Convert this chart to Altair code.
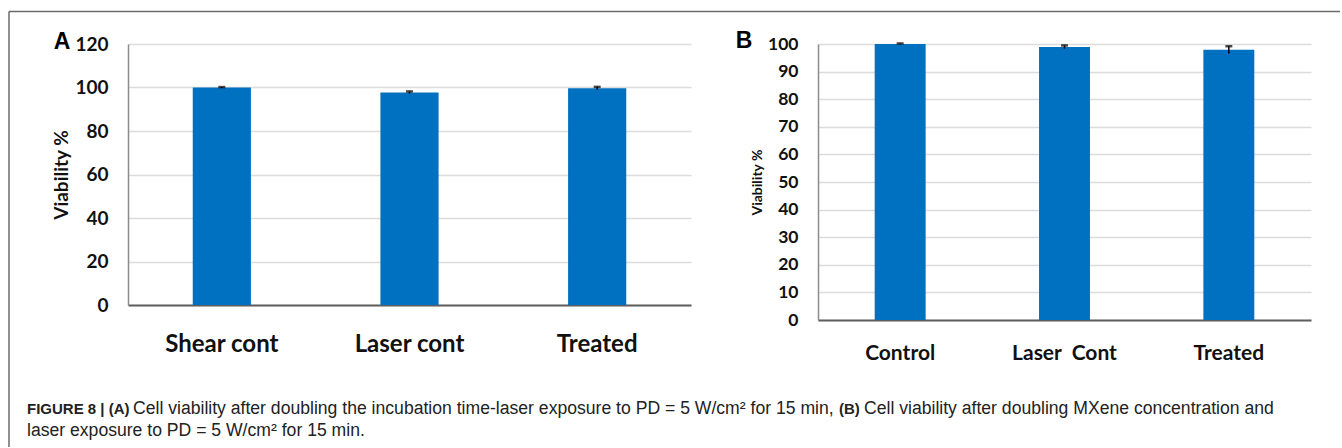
import altair as alt
import pandas as pd

# ---------------- data ----------------
cats_a = ["Shear cont", "Laser cont", "Treated"]
vals_a = [100.0, 97.7, 99.7]
errs_a = [0.2, 0.5, 0.6]
ticks_a = [0, 20, 40, 60, 80, 100, 120]

cats_b = ["Control", "Laser\u00a0 Cont", "Treated"]
vals_b = [100.0, 98.9, 97.9]
errs_b = [0.2, 0.6, 1.3]
ticks_b = [0, 10, 20, 30, 40, 50, 60, 70, 80, 90, 100]

panel_letters = ["A", "B"]
y_title = "Viability %"
cap1_bold = ["FIGURE 8 | (A)", "(B)"]
cap1_text = [
    "Cell viability after doubling the incubation time-laser exposure to PD = 5 W/cm\u00b2 for 15 min,",
    "Cell viability after doubling MXene concentration and",
]
cap2_text = ["laser exposure to PD = 5 W/cm\u00b2 for 15 min."]

BLUE = "#0070c0"
TXT = "#111111"
LFONT = "Lato"
CFONT = "Liberation Sans"

# panel A plot origin is at absolute (128, 43)
OX, OY = 128, 43


def one(t):
    return pd.DataFrame({"t": [t]})


def panel(cats, vals, errs, ticks, ymax, w, h, xfs, yfs, tfs, title_x, xpad, letter, lx, ly):
    df = pd.DataFrame({
        "cat": cats,
        "v": vals,
        "lo": [v - e for v, e in zip(vals, errs)],
        "hi": [v + e for v, e in zip(vals, errs)],
    })
    xs = alt.Scale(paddingInner=0.69, paddingOuter=0.345)
    ys = alt.Scale(domain=[0, ymax], nice=False)
    xa = alt.Axis(
        title=None, labelAngle=0, ticks=False, tickSize=0,
        domainColor="#5e5e5e", domainWidth=2,
        labelFont=LFONT, labelFontWeight="bold", labelFontSize=xfs,
        labelColor=TXT, labelPadding=xpad, labelBaseline="alphabetic",
        grid=False)
    ya = alt.Axis(
        values=ticks, labelOverlap=False,
        title=y_title, titleFont=LFONT, titleFontSize=tfs,
        titleFontWeight="bold", titleColor=TXT, titleX=title_x, titleY=h / 2,
        titleAngle=270, titleAlign="center", titleBaseline="middle",
        labelFont=LFONT, labelFontWeight="bold", labelFontSize=yfs,
        labelColor=TXT, labelPadding=20, ticks=False, tickSize=0,
        domainColor="#8c8c8c", domainWidth=1.5,
        gridColor="#dcdcdc", gridWidth=1.5)
    x = alt.X("cat:N", sort=cats, scale=xs, axis=xa)
    bars = alt.Chart(df).mark_bar(color=BLUE).encode(
        x=x, y=alt.Y("v:Q", scale=ys, axis=ya))
    rule = alt.Chart(df).mark_rule(color="black", strokeWidth=1.5).encode(
        x=x, y=alt.Y("lo:Q", scale=ys, axis=ya), y2="hi:Q")
    cap = alt.Chart(df).mark_tick(color="black", thickness=2.5, size=7).encode(
        x=x, y=alt.Y("hi:Q", scale=ys, axis=ya))
    let = alt.Chart(one(letter)).mark_text(
        font=CFONT, fontWeight="bold", fontSize=23, align="center",
        baseline="alphabetic", color="black").encode(
        text="t:N", x=alt.value(lx), y=alt.value(ly))
    return [bars, rule, cap, let], w, h


layers_a, wa, ha = panel(cats_a, vals_a, errs_a, ticks_a, 120, 563, 261,
                         24, 19, 19, -67, 46, panel_letters[0], 62 - OX, 48 - OY)
layers_b, wb, hb = panel(cats_b, vals_b, errs_b, ticks_b, 100, 493, 276,
                         21, 17.5, 14, -61, 39, panel_letters[1], 744 - 818, 47 - OY)

# outer figure frame (top and left edges)
frame_top = alt.Chart(one("frame")).mark_rule(color="#6b6b6b", strokeWidth=1.5).encode(
    x=alt.value(9 - OX), x2=alt.value(1340 - OX), y=alt.value(10.5 - OY))
frame_left = alt.Chart(one("frame")).mark_rule(color="#6b6b6b", strokeWidth=1.5).encode(
    x=alt.value(9 - OX), y=alt.value(10.5 - OY), y2=alt.value(446 - OY))


def cap_text(t, x, y, bold):
    return alt.Chart(one(t)).mark_text(
        font=CFONT, fontWeight="bold" if bold else "normal",
        fontSize=15 if bold else 17.6, align="left", baseline="alphabetic",
        color="#222222").encode(text="t:N", x=alt.value(x - OX), y=alt.value(y - OY))


caption = [
    cap_text(cap1_bold[0], 27, 413, True),
    cap_text(cap1_text[0], 133, 413, False),
    cap_text(cap1_bold[1], 839, 413, True),
    cap_text(cap1_text[1], 864, 413, False),
    cap_text(cap2_text[0], 27, 435, False),
]

chart_a = alt.layer(*layers_a, frame_top, frame_left, *caption).properties(width=wa, height=ha)
chart_b = alt.layer(*layers_b).properties(width=wb, height=hb)

chart = alt.hconcat(chart_a, chart_b, spacing=818 - 128 - 563, bounds="flush").properties(
    padding={"left": 8, "top": 10, "right": 0, "bottom": 0},
    background="white",
).configure_view(stroke=None)

chart.save("out.html", embed_options={"renderer": "svg", "actions": False})
